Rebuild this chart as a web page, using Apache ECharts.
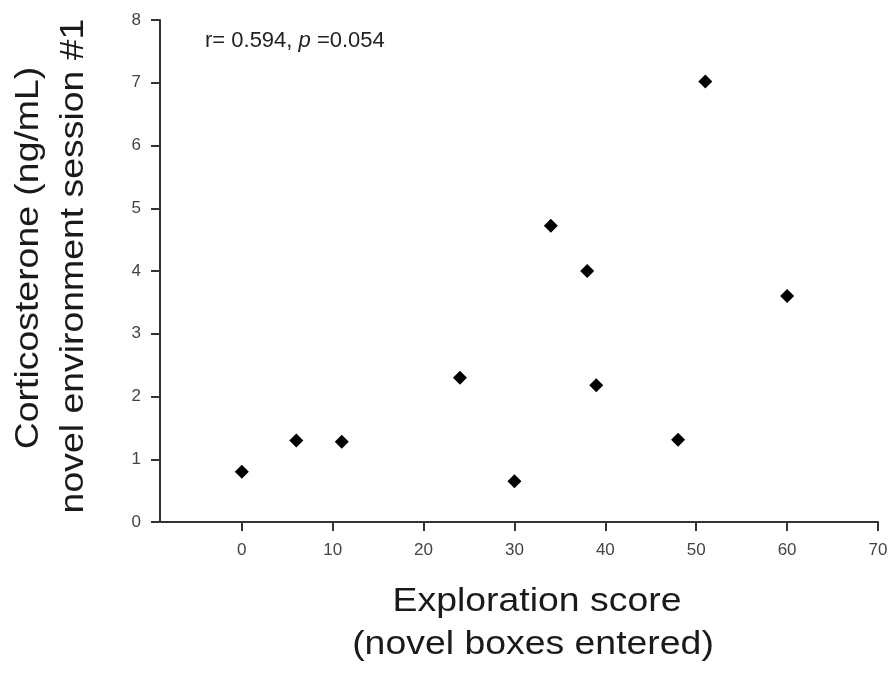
<!DOCTYPE html>
<html>
<head>
<meta charset="utf-8">
<script src="https://cdn.jsdelivr.net/npm/echarts@6/dist/echarts.min.js"></script>
<style>html,body{margin:0;padding:0;background:#fff}#c{width:893px;height:679px}</style>
</head>
<body>
<div id="c"></div>
<script>
const explorationScore = [0, 6, 11, 24, 30, 34, 38, 39, 48, 51, 60];
const corticosterone = [0.80, 1.30, 1.28, 2.30, 0.65, 4.72, 4.00, 2.18, 1.31, 7.02, 3.60];
const xTicks = [0, 10, 20, 30, 40, 50, 60, 70];
const yTicks = [0, 1, 2, 3, 4, 5, 6, 7, 8];

const points = explorationScore.map((x, i) => [x, corticosterone[i]]);
const chart = echarts.init(document.getElementById('c'), null, {renderer: 'canvas'});
const axisColor = '#333';
const labelStyle = {fontFamily: 'Liberation Sans', fontSize: 17, color: '#444'};
const titleStyle = {fontFamily: 'Liberation Sans', fontSize: 34, fill: '#1a1a1a', align: 'center', verticalAlign: 'middle'};
chart.setOption({
  animation: false,
  backgroundColor: '#fff',
  grid: {left: 160, right: 15, top: 20, bottom: 157, containLabel: false},
  xAxis: {
    type: 'value', min: -9, max: 70,
    axisLine: {show: true, onZero: false, lineStyle: {color: axisColor, width: 2}},
    axisTick: {show: true, length: 9, customValues: xTicks, lineStyle: {color: axisColor, width: 2}},
    axisLabel: Object.assign({customValues: xTicks, margin: 20}, labelStyle),
    splitLine: {show: false}
  },
  yAxis: {
    type: 'value', min: 0, max: 8,
    axisLine: {show: true, onZero: false, lineStyle: {color: axisColor, width: 2}},
    axisTick: {show: true, length: 9, customValues: yTicks, lineStyle: {color: axisColor, width: 2}},
    axisLabel: Object.assign({customValues: yTicks, margin: 19}, labelStyle),
    splitLine: {show: false}
  },
  series: [{
    type: 'scatter',
    data: points,
    symbol: 'diamond',
    symbolSize: [14, 14],
    itemStyle: {color: '#000', opacity: 1}
  }],
  graphic: [
    {type: 'text', left: 205, top: 30, style: {
      text: '{n|r= 0.594, }{i|p}{n| =0.054}',
      rich: {n: {fontFamily: 'Liberation Sans', fontSize: 22, fill: '#222'}, i: {fontFamily: 'Liberation Sans', fontStyle: 'italic', fontSize: 22, fill: '#222'}}
    }},
    {type: 'text', x: 29, y: 258, rotation: Math.PI / 2, scaleX: 1.1, style: Object.assign({text: 'Corticosterone (ng/mL)'}, titleStyle)},
    {type: 'text', x: 74, y: 266, rotation: Math.PI / 2, scaleX: 1.1, style: Object.assign({text: 'novel environment session #1'}, titleStyle)},
    {type: 'text', x: 537, y: 602, scaleX: 1.1, style: Object.assign({text: 'Exploration score'}, titleStyle)},
    {type: 'text', x: 533, y: 645, scaleX: 1.1, style: Object.assign({text: '(novel boxes entered)'}, titleStyle)}
  ]
});
</script>
</body>
</html>
